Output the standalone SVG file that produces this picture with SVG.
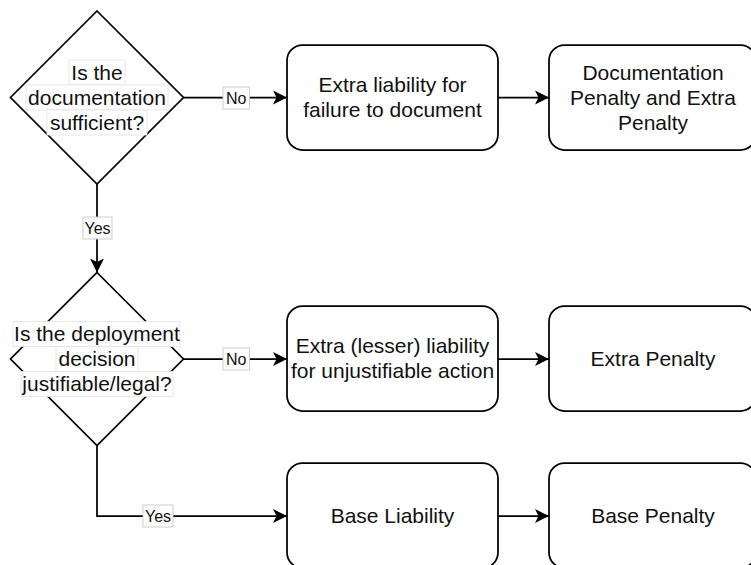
<svg xmlns="http://www.w3.org/2000/svg" width="751" height="565" viewBox="0 0 751 565">
  <defs>
    <marker id="arrow" markerUnits="userSpaceOnUse" markerWidth="16" markerHeight="16" viewBox="0 -8 16 16" refX="14" refY="0" orient="auto">
      <path d="M0,-7 L14,0 L0,7 L3.5,0 Z" fill="#000"/>
    </marker>
    <style>
      .shape { fill: #fff; stroke: #000; stroke-width: 1.75; }
      .edge { fill: none; stroke: #000; stroke-width: 1.75; marker-end: url(#arrow); }
      .t { font-family: "Liberation Sans", Helvetica, Arial, sans-serif; font-size: 21px; fill: #111; text-anchor: middle; }
      .lbl { font-family: "Liberation Sans", Helvetica, Arial, sans-serif; font-size: 16px; fill: #111; text-anchor: middle; }
      .bg { fill: #fff; stroke: #e2e2e2; stroke-width: 0.8; }
      .lbg { fill: #fff; stroke: #c8c8c8; stroke-width: 0.9; }
    </style>
  </defs>
  <rect width="751" height="565" fill="#fff"/>

  <g id="connectors">
    <path class="edge" d="M183.5,97.5 H287"/>
    <path class="edge" d="M97,184 V272.5"/>
    <path class="edge" d="M183.5,359 H287"/>
    <path class="edge" d="M97,445.5 V516 H287"/>
    <path class="edge" d="M498,97.5 H549"/>
    <path class="edge" d="M498,359 H549"/>
    <path class="edge" d="M498,516 H549"/>
    <g id="label-no-1"><rect class="lbg" x="223" y="87" width="26.5" height="22"/><text class="lbl" x="236.2" y="103.6">No</text></g>
    <g id="label-yes-1"><rect class="lbg" x="83" y="217" width="29" height="22"/><text class="lbl" x="97.5" y="233.6">Yes</text></g>
    <g id="label-no-2"><rect class="lbg" x="223" y="348" width="26.5" height="22"/><text class="lbl" x="236.2" y="364.6">No</text></g>
    <g id="label-yes-2"><rect class="lbg" x="143" y="505" width="30" height="22"/><text class="lbl" x="158" y="521.6">Yes</text></g>
  </g>

  <g id="decision-documentation">
    <polygon class="shape" points="97,11 183.5,97.5 97,184 10.5,97.5"/>
    <rect class="bg" x="69" y="60" width="56" height="25"/>
    <rect class="bg" x="26" y="85" width="142" height="25"/>
    <rect class="bg" x="47" y="110" width="100" height="25"/>
    <text class="t" x="97" y="79.8">Is the</text>
    <text class="t" x="97" y="104.8">documentation</text>
    <text class="t" x="97" y="129.8">sufficient?</text>
  </g>

  <g id="decision-justifiable">
    <polygon class="shape" points="97,272.5 183.5,359 97,445.5 10.5,359"/>
    <rect class="bg" x="13" y="321.5" width="167" height="25"/>
    <rect class="bg" x="56" y="346.5" width="82" height="25"/>
    <rect class="bg" x="21" y="371.5" width="152" height="25"/>
    <text class="t" x="97" y="341.3">Is the deployment</text>
    <text class="t" x="97" y="366.3">decision</text>
    <text class="t" x="97" y="391.3">justifiable/legal?</text>
  </g>

  <g id="extra-liability-document">
    <rect class="shape" x="287" y="45" width="211" height="105" rx="15.5" ry="15.5"/>
    <text class="t" x="392.5" y="92.3">Extra liability for</text>
    <text class="t" x="392.5" y="117.3">failure to document</text>
  </g>

  <g id="documentation-penalty">
    <rect class="shape" x="549" y="45" width="207" height="105" rx="15.5" ry="15.5"/>
    <text class="t" x="653" y="79.8">Documentation</text>
    <text class="t" x="653" y="104.8">Penalty and Extra</text>
    <text class="t" x="653" y="129.8">Penalty</text>
  </g>

  <g id="extra-lesser-liability">
    <rect class="shape" x="287" y="306" width="211" height="105" rx="15.5" ry="15.5"/>
    <text class="t" x="392.5" y="353.3">Extra (lesser) liability</text>
    <text class="t" x="392.5" y="378.3">for unjustifiable action</text>
  </g>

  <g id="extra-penalty">
    <rect class="shape" x="549" y="306" width="207" height="105" rx="15.5" ry="15.5"/>
    <text class="t" x="653" y="365.8">Extra Penalty</text>
  </g>

  <g id="base-liability">
    <rect class="shape" x="287" y="463" width="211" height="105" rx="15.5" ry="15.5"/>
    <text class="t" x="392.5" y="522.8">Base Liability</text>
  </g>

  <g id="base-penalty">
    <rect class="shape" x="549" y="463" width="207" height="105" rx="15.5" ry="15.5"/>
    <text class="t" x="653" y="522.8">Base Penalty</text>
  </g>
</svg>
